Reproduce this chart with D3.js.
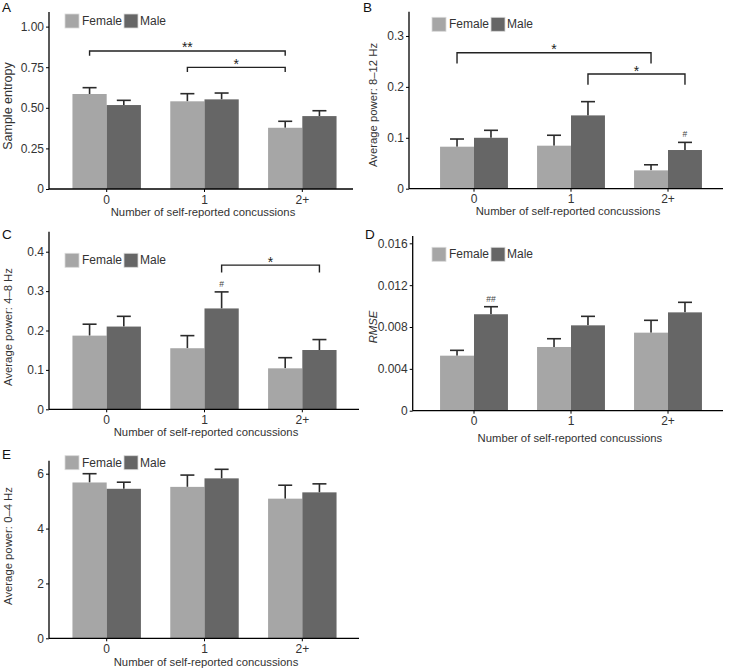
<!DOCTYPE html>
<html>
<head>
<meta charset="utf-8">
<script src="https://cdn.jsdelivr.net/npm/d3@7"></script>
<style>
  html, body { margin: 0; padding: 0; background: #fff; }
  svg { display: block; }
  text { font-family: "Liberation Sans", Arial, Helvetica, sans-serif; }
</style>
</head>
<body>
<svg id="chart" width="729" height="669"></svg>
<script>
// ---------------- DATA ----------------
const categories = ["0", "1", "2+"];
const sexes = ["Female", "Male"];
const xTitle = "Number of self-reported concussions";

// Panel A: Sample entropy
const entropyFemale = [0.585, 0.540, 0.377];
const entropyFemaleSE = [0.039, 0.047, 0.040];
const entropyMale = [0.517, 0.552, 0.449];
const entropyMaleSE = [0.029, 0.039, 0.033];
const entropyTicks = [0, 0.25, 0.5, 0.75, 1.0];
const entropyTickLabels = ["0", "0.25", "0.50", "0.75", "1.00"];

// Panel B: Average power 8–12 Hz
const alphaFemale = [0.0825, 0.0845, 0.036];
const alphaFemaleSE = [0.0151, 0.0205, 0.011];
const alphaMale = [0.100, 0.144, 0.076];
const alphaMaleSE = [0.0147, 0.027, 0.015];
const alphaTicks = [0, 0.1, 0.2, 0.3];
const alphaTickLabels = ["0", "0.1", "0.2", "0.3"];

// Panel C: Average power 4–8 Hz
const thetaFemale = [0.187, 0.155, 0.104];
const thetaFemaleSE = [0.029, 0.032, 0.027];
const thetaMale = [0.210, 0.256, 0.1505];
const thetaMaleSE = [0.026, 0.042, 0.0265];
const thetaTicks = [0, 0.1, 0.2, 0.3, 0.4];
const thetaTickLabels = ["0", "0.1", "0.2", "0.3", "0.4"];

// Panel D: RMSE
const rmseFemale = [0.00526, 0.00609, 0.00746];
const rmseFemaleSE = [0.00051, 0.00079, 0.00118];
const rmseMale = [0.00922, 0.00816, 0.0094];
const rmseMaleSE = [0.00072, 0.00086, 0.00096];
const rmseTicks = [0, 0.004, 0.008, 0.012, 0.016];
const rmseTickLabels = ["0", "0.004", "0.008", "0.012", "0.016"];

// Panel E: Average power 0–4 Hz
const deltaFemale = [5.68, 5.52, 5.09];
const deltaFemaleSE = [0.32, 0.43, 0.49];
const deltaMale = [5.45, 5.83, 5.32];
const deltaMaleSE = [0.24, 0.33, 0.31];
const deltaTicks = [0, 2, 4, 6];
const deltaTickLabels = ["0", "2", "4", "6"];

// Significance brackets (data units)
const entropyBrackets = [
  { a: ["0", "Female"], b: ["2+", "Female"], y: 0.85, tip: 0.029, label: "**" },
  { a: ["1", "Female"], b: ["2+", "Female"], y: 0.749, tip: 0.029, label: "*" }
];
const alphaBrackets = [
  { a: ["0", "Female"], b: ["2+", "Female"], y: 0.267, tip: 0.021, label: "*" },
  { a: ["1", "Male"], b: ["2+", "Male"], y: 0.2253, tip: 0.021, label: "*" }
];
const thetaBrackets = [
  { a: ["1", "Male"], b: ["2+", "Male"], y: 0.366, tip: 0.019, label: "*" }
];
const rmseBrackets = [];
const deltaBrackets = [];

// Sex-difference marks above bars
const alphaMarks = [{ cat: "2+", sex: "Male", label: "#" }];
const thetaMarks = [{ cat: "1", sex: "Male", label: "#" }];
const rmseMarks = [{ cat: "0", sex: "Male", label: "##" }];

// ---------------- LAYOUT ----------------
const colors = { Female: "#a6a6a6", Male: "#666666" };
const svg = d3.select("#chart");

function rows(f, fse, m, mse) {
  const out = [];
  categories.forEach((c, i) => {
    out.push({ cat: c, sex: "Female", v: f[i], se: fse[i] });
    out.push({ cat: c, sex: "Male", v: m[i], se: mse[i] });
  });
  return out;
}

const panels = [
  { letter: "A", lx: 2, ly: 12, ytitle: "Sample entropy", italic: false, ytSize: 12.5,
    data: rows(entropyFemale, entropyFemaleSE, entropyMale, entropyMaleSE),
    ticks: entropyTicks, tickLabels: entropyTickLabels, ymax: 1.09,
    brackets: entropyBrackets, marks: [],
    axX: 49, axRight: 353, top: 12, bottom: 189, xr: [48, 361],
    ytx: 8, yty: 106, xty: 216, legX: 65, legY: 14 },
  { letter: "B", lx: 363, ly: 12, ytitle: "Average power: 8\u201312 Hz", italic: false, ytSize: 11.3,
    data: rows(alphaFemale, alphaFemaleSE, alphaMale, alphaMaleSE),
    ticks: alphaTicks, tickLabels: alphaTickLabels, ymax: 0.3477,
    brackets: alphaBrackets, marks: alphaMarks,
    axX: 409, axRight: 723, top: 11.7, bottom: 188.7, xr: [415.8, 726.2],
    ytx: 373, yty: 105, xty: 215, legX: 432, legY: 17.3 },
  { letter: "C", lx: 2, ly: 239, ytitle: "Average power: 4\u20138 Hz", italic: false, ytSize: 11.3,
    data: rows(thetaFemale, thetaFemaleSE, thetaMale, thetaMaleSE),
    ticks: thetaTicks, tickLabels: thetaTickLabels, ymax: 0.4508,
    brackets: thetaBrackets, marks: thetaMarks,
    axX: 49, axRight: 359, top: 231.7, bottom: 409.3, xr: [48, 361],
    ytx: 8, yty: 327, xty: 436, legX: 65, legY: 253.3 },
  { letter: "D", lx: 365, ly: 239, ytitle: "RMSE", italic: true, ytSize: 11.3,
    data: rows(rmseFemale, rmseFemaleSE, rmseMale, rmseMaleSE),
    ticks: rmseTicks, tickLabels: rmseTickLabels, ymax: 0.0167,
    brackets: rmseBrackets, marks: rmseMarks,
    axX: 412.7, axRight: 723, top: 236, bottom: 410.7, xr: [415.8, 726.2],
    ytx: 373, yty: 327, xty: 442, legX: 432, legY: 247.3 },
  { letter: "E", lx: 2, ly: 459, ytitle: "Average power: 0\u20134 Hz", italic: false, ytSize: 11.3,
    data: rows(deltaFemale, deltaFemaleSE, deltaMale, deltaMaleSE),
    ticks: deltaTicks, tickLabels: deltaTickLabels, ymax: 6.474,
    brackets: deltaBrackets, marks: [],
    axX: 49, axRight: 359, top: 460.7, bottom: 638.3, xr: [48, 361],
    ytx: 8, yty: 546, xty: 666, legX: 65, legY: 455.7 }
];

const ink = "#222";
const textCol = "#333";

panels.forEach(p => {
  const g = svg.append("g");
  const x = d3.scaleBand().domain(categories).range(p.xr).paddingInner(0).paddingOuter(0.1);
  const groupW = x.bandwidth() * 0.7;
  const xs = d3.scaleBand().domain(sexes).range([-groupW / 2, groupW / 2]);
  const y = d3.scaleLinear().domain([0, p.ymax]).range([p.bottom, p.top]);
  const cx = (c, s) => x(c) + x.bandwidth() / 2 + xs(s) + xs.bandwidth() / 2;

  // error bars (upper only; lower part hidden under bar)
  const capW = 14;
  const eb = g.append("g").attr("stroke", "#2b2b2b").attr("stroke-width", 1.6);
  p.data.forEach(d => {
    const xc = cx(d.cat, d.sex);
    eb.append("line").attr("x1", xc).attr("x2", xc).attr("y1", y(d.v)).attr("y2", y(d.v + d.se));
    eb.append("line").attr("x1", xc - capW / 2).attr("x2", xc + capW / 2)
      .attr("y1", y(d.v + d.se)).attr("y2", y(d.v + d.se));
  });

  // bars
  g.append("g").selectAll("rect").data(p.data).join("rect")
    .attr("x", d => x(d.cat) + x.bandwidth() / 2 + xs(d.sex))
    .attr("width", xs.bandwidth())
    .attr("y", d => y(d.v))
    .attr("height", d => y(0) - y(d.v))
    .attr("fill", d => colors[d.sex]);

  // axes
  const yAxis = d3.axisLeft(y).tickValues(p.ticks)
    .tickFormat((d, i) => p.tickLabels[i]).tickSize(3).tickPadding(2);
  const ya = g.append("g").attr("transform", `translate(${p.axX},0)`).call(yAxis);
  ya.select(".domain").remove();
  ya.append("line").attr("x1", 0).attr("x2", 0).attr("y1", p.top).attr("y2", p.bottom)
    .attr("stroke", "#000").attr("stroke-width", 1.3);
  ya.selectAll(".tick line").attr("stroke", "#000");
  ya.selectAll(".tick text").attr("font-size", 12).attr("fill", textCol)
    .attr("font-family", "Liberation Sans, Arial, sans-serif");

  const xAxis = d3.axisBottom(x).tickSize(3).tickPadding(3);
  const xa = g.append("g").attr("transform", `translate(0,${p.bottom})`).call(xAxis);
  xa.select(".domain").remove();
  xa.append("line").attr("x1", p.axX).attr("x2", p.axRight).attr("y1", 0).attr("y2", 0)
    .attr("stroke", "#000").attr("stroke-width", 1.3);
  xa.selectAll(".tick line").attr("stroke", "#000");
  xa.selectAll(".tick text").attr("font-size", 12).attr("fill", textCol)
    .attr("font-family", "Liberation Sans, Arial, sans-serif");

  // axis titles
  g.append("text").attr("x", (p.axX + p.axRight) / 2 + 2).attr("y", p.xty)
    .attr("text-anchor", "middle").attr("font-size", 11.3).attr("fill", textCol).text(xTitle);
  g.append("text").attr("transform", `translate(${p.ytx},${p.yty}) rotate(-90)`)
    .attr("text-anchor", "middle").attr("dominant-baseline", "central")
    .attr("font-size", p.ytSize).attr("fill", textCol)
    .attr("font-style", p.italic ? "italic" : "normal").text(p.ytitle);

  // panel letter
  g.append("text").attr("x", p.lx).attr("y", p.ly).attr("font-size", 13.5).attr("fill", "#111").text(p.letter);

  // legend
  const leg = g.append("g");
  const sw = 14;
  leg.append("rect").attr("x", p.legX).attr("y", p.legY).attr("width", sw).attr("height", sw)
    .attr("fill", colors.Female).attr("stroke", "#d9d9d9").attr("stroke-width", 0.8);
  leg.append("text").attr("x", p.legX + sw + 3).attr("y", p.legY + sw / 2).attr("dominant-baseline", "central")
    .attr("font-size", 12).attr("fill", textCol).text("Female");
  leg.append("rect").attr("x", p.legX + 59).attr("y", p.legY).attr("width", sw).attr("height", sw)
    .attr("fill", colors.Male).attr("stroke", "#d9d9d9").attr("stroke-width", 0.8);
  leg.append("text").attr("x", p.legX + 59 + sw + 2).attr("y", p.legY + sw / 2).attr("dominant-baseline", "central")
    .attr("font-size", 12).attr("fill", textCol).text("Male");

  // brackets
  p.brackets.forEach(b => {
    const x1 = cx(b.a[0], b.a[1]), x2 = cx(b.b[0], b.b[1]);
    const yb = y(b.y), yt = y(b.y - b.tip);
    g.append("path").attr("d", `M${x1},${yt}V${yb}H${x2}V${yt}`)
      .attr("fill", "none").attr("stroke", ink).attr("stroke-width", 1.4);
    g.append("text").attr("x", (x1 + x2) / 2).attr("y", yb + 1.5).attr("text-anchor", "middle")
      .attr("font-size", 14).attr("fill", ink).text(b.label);
  });

  // marks
  p.marks.forEach(m => {
    const d = p.data.find(r => r.cat === m.cat && r.sex === m.sex);
    g.append("text").attr("x", cx(m.cat, m.sex)).attr("y", y(d.v + d.se) - 5)
      .attr("text-anchor", "middle").attr("font-size", 8.5).attr("fill", "#444").text(m.label);
  });
});
</script>
</body>
</html>
